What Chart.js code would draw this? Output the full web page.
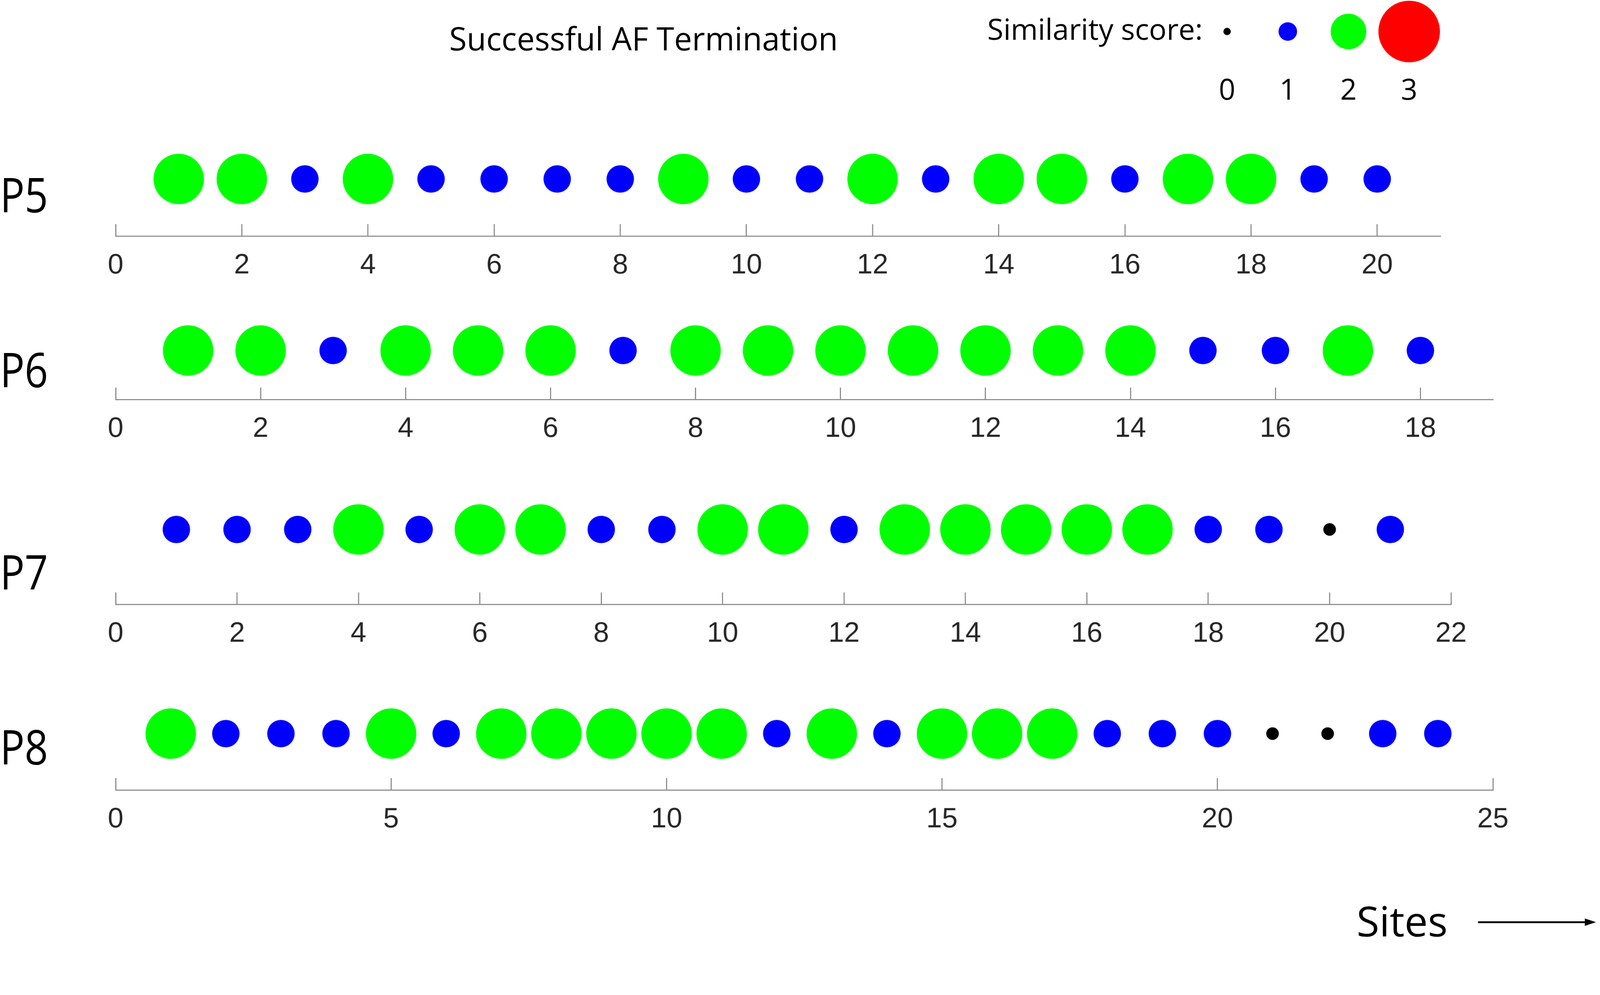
<!DOCTYPE html>
<html>
<head>
<meta charset="utf-8">
<script src="https://cdn.jsdelivr.net/npm/chart.js@4/dist/chart.umd.min.js"></script>
<style>
  html, body { margin: 0; padding: 0; background: #fff; overflow: hidden; }
  #page { position: relative; width: 4317px; height: 2548px; overflow: hidden; font-family: "Open Sans", sans-serif; transform-origin: 0 0; }
  canvas { position: absolute; left: 0; }
  .txt { position: absolute; white-space: nowrap; color: #000; line-height: 1; }
  .plab { font-size: 130px; transform: scaleX(0.85); transform-origin: left center; }
</style>
</head>
<body>
<div id="page">
  <canvas id="legend"></canvas>
  <canvas id="row5"></canvas>
  <canvas id="row6"></canvas>
  <canvas id="row7"></canvas>
  <canvas id="row8"></canvas>

  <div class="txt" style="left:1212px; top:60px; font-size:86px;">Successful AF Termination</div>
  <div class="txt" style="right:1072px; top:38px; font-size:79px;">Similarity score:</div>

  <div class="txt plab" style="left:0px; top:458px;">P5</div>
  <div class="txt plab" style="left:0px; top:930px;">P6</div>
  <div class="txt plab" style="left:0px; top:1476px;">P7</div>
  <div class="txt plab" style="left:0px; top:1949px;">P8</div>

  <div class="txt" style="left:3660px; top:2428px; font-size:112px;">Sites</div>
  <svg style="position:absolute; left:3980px; top:2470px;" width="330" height="40">
    <line x1="8" y1="19" x2="300" y2="19" stroke="#000" stroke-width="5"/>
    <polygon points="296,9 326,19 296,29" fill="#000"/>
  </svg>
</div>

<script>
// similarity score per site (0 = black, 1 = blue, 2 = green, 3 = red)
const p5Scores = [2, 2, 1, 2, 1, 1, 1, 1, 2, 1, 1, 2, 1, 2, 2, 1, 2, 2, 1, 1];
const p6Scores = [2, 2, 1, 2, 2, 2, 1, 2, 2, 2, 2, 2, 2, 2, 1, 1, 2, 1];
const p7Scores = [1, 1, 1, 2, 1, 2, 2, 1, 1, 2, 2, 1, 2, 2, 2, 2, 2, 1, 1, 0, 1];
const p8Scores = [2, 1, 1, 1, 2, 1, 2, 2, 2, 2, 2, 1, 2, 1, 2, 2, 2, 1, 1, 1, 0, 0, 1, 1];

// x axis tick labels of each row
const p5Ticks = [0, 2, 4, 6, 8, 10, 12, 14, 16, 18, 20];
const p6Ticks = [0, 2, 4, 6, 8, 10, 12, 14, 16, 18];
const p7Ticks = [0, 2, 4, 6, 8, 10, 12, 14, 16, 18, 20, 22];
const p8Ticks = [0, 5, 10, 15, 20, 25];

// legend
const legendScores = [0, 1, 2, 3];
const legendLabels = ['0', '1', '2', '3'];

const scoreColors = ['#000000', '#0000ff', '#00ff00', '#ff0000'];
const rowRadius = [17, 37, 68, 80];
const legendRadius = [10, 25, 48, 83];

const W = 4317, H = 2548;

// fit the page into the window if the viewport is not exactly W x H
const fit = Math.min(window.innerWidth / W, window.innerHeight / H);
if (Math.abs(fit - 1) > 0.001) {
  document.getElementById('page').style.transform = 'scale(' + fit + ')';
}

function setupCanvas(id, top, height) {
  const c = document.getElementById(id);
  c.width = W;
  c.height = height;
  c.style.top = top + 'px';
  c.style.width = W + 'px';
  c.style.height = height + 'px';
  return c.getContext('2d');
}

function makeRow(id, scores, ticks, xMax, top, half, axisRight) {
  const ctx = setupCanvas(id, top, half * 2 + 150);
  return new Chart(ctx, {
    type: 'scatter',
    data: {
      datasets: [{
        data: scores.map((s, i) => ({ x: i + 1, y: 0 })),
        pointRadius: scores.map(s => rowRadius[s]),
        pointHoverRadius: scores.map(s => rowRadius[s]),
        pointBackgroundColor: scores.map(s => scoreColors[s]),
        pointBorderWidth: 0,
        clip: false
      }]
    },
    options: {
      responsive: false,
      animation: false,
      devicePixelRatio: 1,
      layout: { autoPadding: false, padding: { left: 312, right: W - axisRight, top: 0, bottom: 0 } },
      plugins: { legend: { display: false }, tooltip: { enabled: false } },
      scales: {
        x: {
          type: 'linear',
          min: 0,
          max: xMax,
          afterBuildTicks: s => { s.ticks = ticks.map(v => ({ value: v })); },
          afterFit: s => { s.height = 150; s.paddingLeft = 0; s.paddingRight = 0; },
          border: { display: true, color: '#8c8c8c', width: 3 },
          grid: { drawOnChartArea: false, drawTicks: true, tickLength: -32, color: '#8c8c8c', lineWidth: 3 },
          ticks: {
            padding: 66,
            maxRotation: 0,
            autoSkip: false,
            color: '#262626',
            font: { family: 'Liberation Sans', size: 76 }
          }
        },
        y: { display: false, min: -1, max: 1 }
      }
    }
  });
}

makeRow('row5', p5Scores, p5Ticks, 21, 329, 154, 3886);
makeRow('row6', p6Scores, p6Ticks, 19, 814, 132, 4028);
makeRow('row7', p7Scores, p7Ticks, 22, 1227, 202, 3915);
makeRow('row8', p8Scores, p8Ticks, 25, 1828, 152, 4028);

// size legend
const legCtx = setupCanvas('legend', 0, 300);
new Chart(legCtx, {
  type: 'scatter',
  data: {
    datasets: [{
      data: legendScores.map(s => ({ x: s, y: 0 })),
      pointRadius: legendScores.map(s => legendRadius[s]),
      pointHoverRadius: legendScores.map(s => legendRadius[s]),
      pointBackgroundColor: legendScores.map(s => scoreColors[s]),
      pointBorderWidth: 0,
      clip: false
    }]
  },
  options: {
    responsive: false,
    animation: false,
    devicePixelRatio: 1,
    layout: { autoPadding: false, padding: { left: 3229, right: W - 3884, top: 0, bottom: 0 } },
    plugins: { legend: { display: false }, tooltip: { enabled: false } },
    scales: {
      x: {
        type: 'linear',
        min: -0.5,
        max: 3.5,
        afterBuildTicks: s => { s.ticks = legendScores.map(v => ({ value: v })); },
        afterFit: s => { s.height = 130; s.paddingLeft = 0; s.paddingRight = 0; },
        border: { display: false },
        grid: { display: false, drawTicks: false },
        ticks: {
          padding: 30,
          callback: (v, i) => legendLabels[i],
          color: '#000',
          font: { family: 'Open Sans', size: 78 }
        }
      },
      y: { display: false, min: -1, max: 1 }
    }
  }
});
</script>
</body>
</html>
